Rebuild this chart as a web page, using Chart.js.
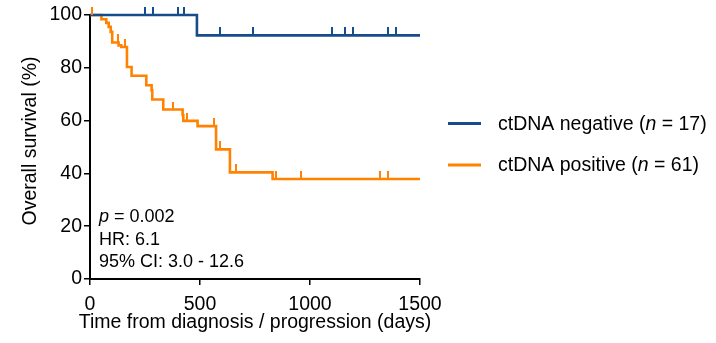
<!DOCTYPE html>
<html>
<head>
<meta charset="utf-8">
<script src="https://cdn.jsdelivr.net/npm/chart.js@4.4.1/dist/chart.umd.min.js"></script>
<style>
  html, body { margin: 0; padding: 0; background: #fff; }
  #wrap { width: 716px; height: 343px; }
</style>
</head>
<body>
<div id="wrap"><canvas id="km" width="716" height="343"></canvas></div>
<script>
/* ============================================
   Kaplan-Meier - overall survival by ctDNA status
   ============================================ */

// ctDNA negative (n = 17)
const negTimes = [0, 486, 1500];
const negSurv = [100, 92.3, 92.3];
const negCensored = [251, 285, 399, 427, 589, 593, 739, 1100, 1160, 1195, 1353, 1390];

// ctDNA positive (n = 61)
const posTimes = [0, 52, 74, 85, 94, 101, 130, 142, 168, 189, 256, 280, 283, 333, 421, 424, 489, 573, 636, 830, 1500];
const posSurv = [100, 98.4, 97.0, 95.5, 93.6, 89.6, 88.5, 87.9, 80.3, 77.0, 73.4, 71.5, 68.0, 64.2, 62.1, 59.9, 57.9, 49.1, 40.4, 37.9, 37.9];
const posCensored = [10, 126, 160, 379, 440, 565, 591, 662, 845, 958, 1318, 1353];

const xTicks = [0, 500, 1000, 1500];
const yTicks = [0, 20, 40, 60, 80, 100];

const xTitle = 'Time from diagnosis / progression (days)';
const yTitle = 'Overall survival (%)';
const seriesLabels = ['ctDNA negative', 'ctDNA positive'];
const seriesN = [17, 61];
const statLines = ['p = 0.002', 'HR: 6.1', '95% CI: 3.0 - 12.6'];

const BLUE = '#174c8c';
const ORANGE = '#ff8200';
const FONT = '"Liberation Sans", Arial, Helvetica, sans-serif';

// survival value of a step curve at time t
function survAt(times, surv, t) {
    let s = surv[0];
    for (let i = 0; i < times.length; i++) {
        if (times[i] <= t) s = surv[i];
    }
    return s;
}

function toPoints(xs, ys) {
    return xs.map((x, i) => ({ x: x, y: ys[i] }));
}

function censorPoints(ts, times, surv) {
    return ts.map(t => ({ x: t, y: survAt(times, surv, t) }));
}

// small vertical tick standing on the curve (upper half of the image only)
function censorMark(color) {
    const c = document.createElement('canvas');
    c.width = 2;
    c.height = 16;
    const g = c.getContext('2d');
    g.fillStyle = color;
    g.fillRect(0, 0, 2, 8);
    return c;
}

const overlay = {
    id: 'overlay',
    afterDraw(chart) {
        const ctx = chart.ctx;
        const area = chart.chartArea;
        ctx.save();
        ctx.textBaseline = 'middle';
        ctx.fillStyle = '#000';

        // axis titles (drawn here so they are not squeezed to the axis size)
        ctx.textAlign = 'center';
        ctx.font = '19.5px ' + FONT;
        ctx.fillText(xTitle, (area.left + area.right) / 2, 323);
        ctx.save();
        ctx.translate(31, 141);
        ctx.rotate(-Math.PI / 2);
        ctx.fillText(yTitle, 0, 0);
        ctx.restore();

        // legend
        ctx.textAlign = 'left';
        const colors = [BLUE, ORANGE];
        const rows = [123.5, 165];
        rows.forEach((y, i) => {
            ctx.strokeStyle = colors[i];
            ctx.lineWidth = 3;
            ctx.beginPath();
            ctx.moveTo(448, y);
            ctx.lineTo(481, y);
            ctx.stroke();

            ctx.fillStyle = '#000';
            let x = 498;
            const parts = [
                [seriesLabels[i] + ' (', 'normal'],
                ['n', 'italic'],
                [' = ' + seriesN[i] + ')', 'normal']
            ];
            parts.forEach(([txt, style]) => {
                ctx.font = style + ' 19.5px ' + FONT;
                ctx.fillText(txt, x, y + 1);
                x += ctx.measureText(txt).width;
            });
        });

        // stats block
        ctx.fillStyle = '#000';
        const sy = [217, 240, 262];
        statLines.forEach((line, i) => {
            let x = 99;
            if (line.startsWith('p ')) {
                ctx.font = 'italic 18px ' + FONT;
                ctx.fillText('p', x, sy[i]);
                x += ctx.measureText('p').width;
                ctx.font = '18px ' + FONT;
                ctx.fillText(line.slice(1), x, sy[i]);
            } else {
                ctx.font = '18px ' + FONT;
                ctx.fillText(line, x, sy[i]);
            }
        });
        ctx.restore();
    }
};

const ctx = document.getElementById('km');
new Chart(ctx, {
    type: 'scatter',
    data: {
        datasets: [
            {
                label: 'neg censored',
                data: censorPoints(negCensored, negTimes, negSurv),
                pointStyle: censorMark(BLUE),
                pointRadius: 8,
                showLine: false,
                clip: false
            },
            {
                label: 'pos censored',
                data: censorPoints(posCensored, posTimes, posSurv),
                pointStyle: censorMark(ORANGE),
                pointRadius: 8,
                showLine: false,
                clip: false
            },
            {
                label: seriesLabels[0],
                data: toPoints(negTimes, negSurv),
                showLine: true,
                stepped: 'before',
                borderColor: BLUE,
                borderWidth: 2.6,
                pointRadius: 0,
                clip: false
            },
            {
                label: seriesLabels[1],
                data: toPoints(posTimes, posSurv),
                showLine: true,
                stepped: 'before',
                borderColor: ORANGE,
                borderWidth: 2.6,
                pointRadius: 0,
                clip: false
            }
        ]
    },
    options: {
        responsive: false,
        animation: false,
        devicePixelRatio: 1,
        layout: { padding: { top: 15, right: 296, left: 0, bottom: 0 } },
        plugins: {
            legend: { display: false },
            tooltip: { enabled: false }
        },
        scales: {
            x: {
                type: 'linear',
                min: 0,
                max: 1500,
                afterFit(scale) { scale.height = 64; },
                afterBuildTicks(scale) { scale.ticks = xTicks.map(v => ({ value: v })); },
                border: { color: '#000', width: 2 },
                grid: { drawOnChartArea: false, drawTicks: true, tickLength: 6, color: '#000', lineWidth: 1.5 },
                ticks: {
                    color: '#000',
                    font: { family: FONT, size: 19.5 },
                    padding: 8,
                    maxRotation: 0,
                    callback: v => String(v)
                },
                title: { display: false }
            },
            y: {
                min: 0,
                max: 100,
                afterFit(scale) { scale.width = 90; },
                afterBuildTicks(scale) { scale.ticks = yTicks.map(v => ({ value: v })); },
                border: { color: '#000', width: 2 },
                grid: { drawOnChartArea: false, drawTicks: true, tickLength: 6, color: '#000', lineWidth: 1.5 },
                ticks: { color: '#000', font: { family: FONT, size: 19.5 }, padding: 2, callback: v => String(v) },
                title: { display: false }
            }
        }
    },
    plugins: [overlay]
});
</script>
</body>
</html>
